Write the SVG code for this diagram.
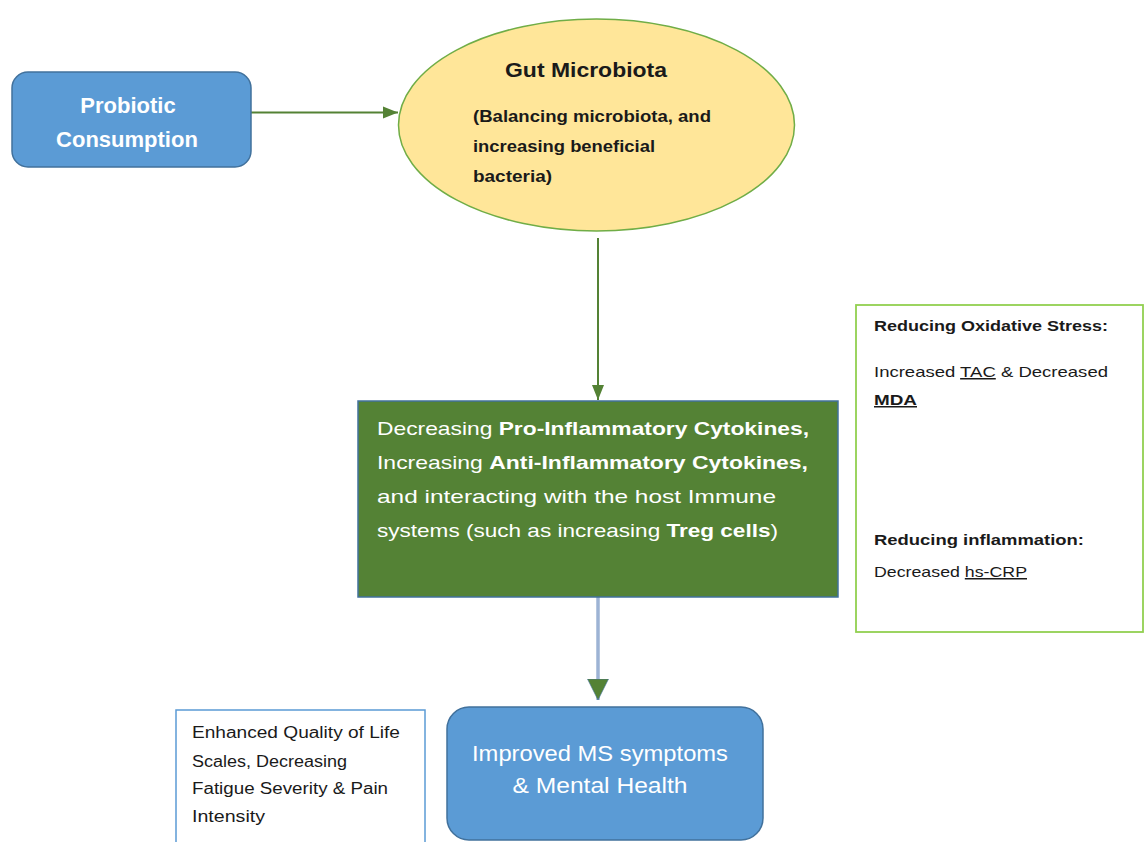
<svg xmlns="http://www.w3.org/2000/svg" width="1146" height="842" viewBox="0 0 1146 842">
<style>
.t{font-family:"Liberation Sans",Arial,sans-serif}
.b{font-weight:bold}
.w{fill:#ffffff}
.k{fill:#1a1a1a}
.u{text-decoration:underline}
.blue{fill:#5B9BD5;stroke:#41719C;stroke-width:1.5}
</style>
<defs>
<marker id="ahG" markerUnits="userSpaceOnUse" markerWidth="16" markerHeight="14" refX="15" refY="7" orient="auto">
<polygon points="0,1 15,7 0,13" fill="#548235"/>
</marker>
<marker id="ahBig" markerUnits="userSpaceOnUse" markerWidth="22" markerHeight="22" refX="21" refY="10.5" orient="auto">
<polygon points="0,0 21,10.5 0,21" fill="#548235" stroke="#41719C" stroke-width="0.6"/>
</marker>
</defs>
<rect width="1146" height="842" fill="#ffffff"/>

<g id="connectors">
<line x1="251" y1="112.5" x2="398" y2="112.5" stroke="#548235" stroke-width="2" marker-end="url(#ahG)"/>
<line x1="598" y1="238" x2="598" y2="400" stroke="#548235" stroke-width="2" marker-end="url(#ahG)"/>
<line x1="598" y1="597" x2="598" y2="700" stroke="#9DB3D4" stroke-width="3.5" marker-end="url(#ahBig)"/>
</g>

<g id="probiotic">
<rect class="blue" x="12" y="72" width="239" height="95" rx="16"/>
<text class="t b w" x="128" y="113" font-size="22" text-anchor="middle">Probiotic</text>
<text class="t b w" x="127" y="147" font-size="22" text-anchor="middle">Consumption</text>
</g>

<g id="gut">
<ellipse cx="596.5" cy="125" rx="198" ry="106" fill="#FFE699" stroke="#70AD47" stroke-width="1.5"/>
<text class="t b k" x="505" y="77" font-size="20" textLength="162" lengthAdjust="spacingAndGlyphs">Gut Microbiota</text>
<text class="t b k" x="473" y="122" font-size="16" textLength="238" lengthAdjust="spacingAndGlyphs">(Balancing microbiota, and</text>
<text class="t b k" x="473" y="152" font-size="16" textLength="182" lengthAdjust="spacingAndGlyphs">increasing beneficial</text>
<text class="t b k" x="473" y="182" font-size="16" textLength="79" lengthAdjust="spacingAndGlyphs">bacteria)</text>
</g>

<g id="cytokines">
<rect x="358" y="401" width="480" height="196" fill="#548235" stroke="#41719C" stroke-width="1.5"/>
<text class="t w" x="377" y="435" font-size="19" textLength="432" lengthAdjust="spacingAndGlyphs">Decreasing <tspan class="b">Pro-Inflammatory Cytokines,</tspan></text>
<text class="t w" x="377" y="469" font-size="19" textLength="431" lengthAdjust="spacingAndGlyphs">Increasing <tspan class="b">Anti-Inflammatory Cytokines,</tspan></text>
<text class="t w" x="377" y="503" font-size="19" textLength="399" lengthAdjust="spacingAndGlyphs">and interacting with the host Immune</text>
<text class="t w" x="377" y="537" font-size="19" textLength="401" lengthAdjust="spacingAndGlyphs">systems (such as increasing <tspan class="b">Treg cells</tspan>)</text>
</g>

<g id="oxidative">
<rect x="856" y="305" width="287" height="327" fill="#ffffff" stroke="#92D050" stroke-width="1.8"/>
<text class="t b k" x="874" y="331" font-size="15" textLength="234" lengthAdjust="spacingAndGlyphs">Reducing Oxidative Stress:</text>
<text class="t k" x="874" y="377" font-size="15" textLength="234" lengthAdjust="spacingAndGlyphs">Increased <tspan class="u">TAC</tspan> &amp; Decreased</text>
<text class="t b k u" x="874" y="405" font-size="15" textLength="43" lengthAdjust="spacingAndGlyphs">MDA</text>
<text class="t b k" x="874" y="545" font-size="15" textLength="210" lengthAdjust="spacingAndGlyphs">Reducing inflammation:</text>
<text class="t k" x="874" y="577" font-size="15" textLength="153" lengthAdjust="spacingAndGlyphs">Decreased <tspan class="u">hs-CRP</tspan></text>
</g>

<g id="quality">
<rect x="176" y="710" width="249" height="145" fill="#ffffff" stroke="#5B9BD5" stroke-width="1.5"/>
<text class="t k" x="192" y="738" font-size="16" textLength="208" lengthAdjust="spacingAndGlyphs">Enhanced Quality of Life</text>
<text class="t k" x="192" y="767" font-size="16" textLength="155" lengthAdjust="spacingAndGlyphs">Scales, Decreasing</text>
<text class="t k" x="192" y="794" font-size="16" textLength="196" lengthAdjust="spacingAndGlyphs">Fatigue Severity &amp; Pain</text>
<text class="t k" x="192" y="822" font-size="16" textLength="73" lengthAdjust="spacingAndGlyphs">Intensity</text>
</g>

<g id="improved">
<rect class="blue" x="447" y="707" width="316" height="133" rx="22"/>
<text class="t w" x="600" y="761" font-size="22" text-anchor="middle" textLength="256" lengthAdjust="spacingAndGlyphs">Improved MS symptoms</text>
<text class="t w" x="600" y="793" font-size="22" text-anchor="middle" textLength="175" lengthAdjust="spacingAndGlyphs">&amp; Mental Health</text>
</g>
</svg>
